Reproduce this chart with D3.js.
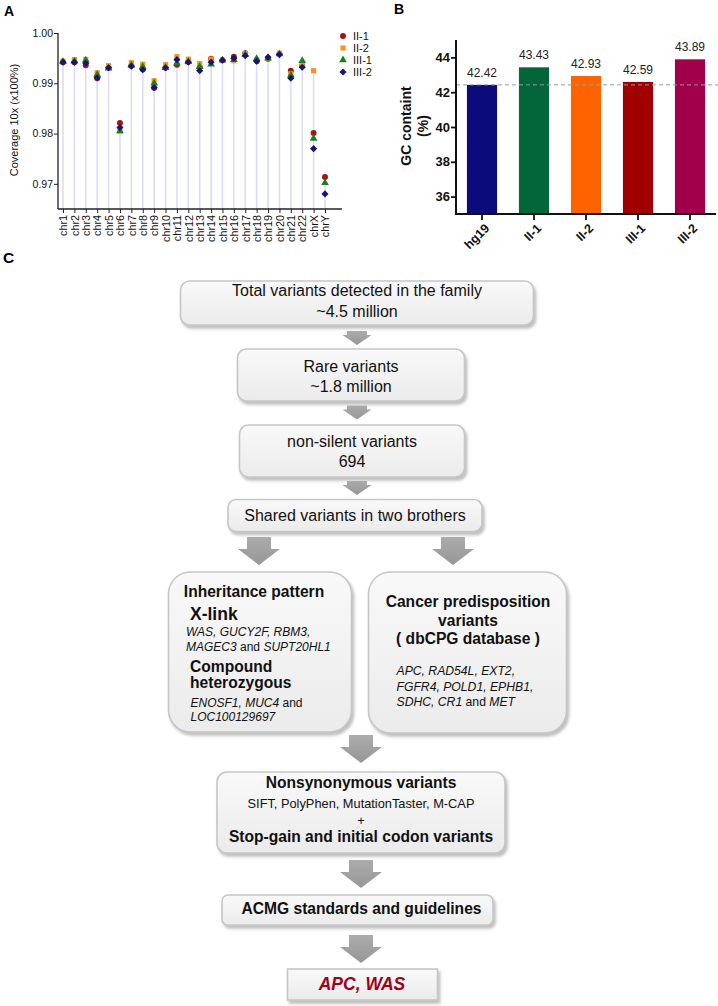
<!DOCTYPE html>
<html><head><meta charset="utf-8">
<script src="https://cdn.jsdelivr.net/npm/d3@7"></script>
<style>
body{margin:0;background:#fff}
svg{display:block}
text{font-family:"Liberation Sans",Arial,Helvetica,sans-serif}
</style>
</head><body>
<svg id="c" width="718" height="1006"></svg>
<script>
// ---------- DATA ----------
const chromosomes = ["chr1","chr2","chr3","chr4","chr5","chr6","chr7","chr8","chr9","chr10","chr11","chr12",
  "chr13","chr14","chr15","chr16","chr17","chr18","chr19","chr20","chr21","chr22","chrX","chrY"];
const seriesNames = ["II-1","II-2","III-1","III-2"];
const covII1  = [0.9942,0.9942,0.9936,0.9910,0.9931,0.9821,0.9935,0.9928,0.9891,0.9931,0.9937,0.9943,
                 0.9932,0.9949,0.9946,0.9953,0.9960,0.9944,0.9949,0.9959,0.9925,0.9935,0.9801,0.97135];
const covII2  = [0.9944,0.9947,0.9947,0.9921,0.9935,0.9805,0.9941,0.9938,0.9905,0.9937,0.9953,0.9948,
                 0.9939,0.9948,0.9946,0.9945,0.9959,0.9946,0.9949,0.9960,0.9919,0.9938,0.9925,null];
const covIII1 = [0.9943,0.9944,0.9946,0.9917,0.9930,0.9805,0.9936,0.9933,0.9900,0.9931,0.9940,0.9943,
                 0.9933,0.9938,0.9946,0.9947,0.9957,0.9949,0.9950,0.9958,0.9916,0.9945,0.9790,0.9702];
const covIII2 = [0.9942,0.9942,0.9940,0.9911,0.9931,0.9812,0.9934,0.9927,0.9891,0.9931,0.9947,0.9942,
                 0.9925,0.9942,0.9946,0.9950,0.9955,0.9944,0.9952,0.9957,0.9910,0.9932,0.9770,0.9680];
const coverageTicks = [0.97,0.98,0.99,1.00];

const gcSamples = ["hg19","II-1","II-2","III-1","III-2"];
const gcValues  = [42.42,43.43,42.93,42.59,43.89];
const gcTicks   = [36,38,40,42,44];
const gcReference = 42.42;

// Flowchart text
const stepTotal   = ["Total variants detected in the family","~4.5 million"];
const stepRare    = ["Rare variants","~1.8 million"];
const stepNonSil  = ["non-silent variants","694"];
const stepShared  = ["Shared variants in two brothers"];
const inheritTitle = "Inheritance pattern";
const xlinkTitle = "X-link";
const xlinkGenes = [[["WAS, GUCY2F, RBM3,",true]],[["MAGEC3",true],[" and ",false],["SUPT20HL1",true]]];
const compoundTitle = ["Compound","heterozygous"];
const compoundGenes = [[["ENOSF1, MUC4",true],[" and",false]],[["LOC100129697",true]]];
const cancerTitle = ["Cancer predisposition","variants","( dbCPG database )"];
const cancerGenes = [[["APC, RAD54L, EXT2,",true]],[["FGFR4, POLD1, EPHB1,",true]],[["SDHC, CR1",true],[" and ",false],["MET",true]]];
const nonsynTitle = "Nonsynonymous variants";
const nonsynTools = "SIFT, PolyPhen, MutationTaster, M-CAP";
const stopTitle = "Stop-gain and initial codon variants";
const acmgTitle = "ACMG standards and guidelines";
const finalGenes = "APC, WAS";

// ---------- SETUP ----------
const svg = d3.select("#c");
const defs = svg.append("defs");
const grad = defs.append("linearGradient").attr("id","boxGrad").attr("x1",0).attr("y1",0).attr("x2",0).attr("y2",1);
grad.append("stop").attr("offset","0%").attr("stop-color","#f9f9f9");
grad.append("stop").attr("offset","100%").attr("stop-color","#ebebeb");
const agrad = defs.append("linearGradient").attr("id","arrGrad").attr("x1",0).attr("y1",0).attr("x2",0).attr("y2",1);
agrad.append("stop").attr("offset","0%").attr("stop-color","#ababab");
agrad.append("stop").attr("offset","100%").attr("stop-color","#979797");
const flt = defs.append("filter").attr("id","shadow").attr("x","-10%").attr("y","-10%").attr("width","130%").attr("height","140%");
flt.append("feDropShadow").attr("dx",2).attr("dy",3).attr("stdDeviation",1.6).attr("flood-color","#888").attr("flood-opacity",0.55);

// panel letters
svg.append("text").attr("x",4).attr("y",16).attr("font-size",14).attr("font-weight","bold").text("A");
svg.append("text").attr("x",394).attr("y",14).attr("font-size",14).attr("font-weight","bold").text("B");
svg.append("text").attr("x",3).attr("y",263).attr("font-size",15.5).attr("font-weight","bold").text("C");

// ---------- PANEL A ----------
const gA = svg.append("g");
const xA = d3.scalePoint().domain(chromosomes).range([63,325]);
const yA = d3.scaleLinear().domain([0.965,1.0]).range([209,33]);
const seriesData = [covII1,covII2,covIII1,covIII2];
const seriesColors = ["#a01515","#f7941d","#1f7d1f","#14147a"];
const seriesSymbols = [d3.symbolCircle,d3.symbolSquare,d3.symbolTriangle,d3.symbolDiamond2];
const seriesSizes = [28,27,26,32];

// stems
gA.selectAll("line.stem").data(chromosomes).join("line")
  .attr("x1",d=>xA(d)).attr("x2",d=>xA(d))
  .attr("y1",yA(0.965))
  .attr("y2",(d,i)=>yA(d3.max(seriesData,s=>s[i])))
  .attr("stroke","#dcdcf4").attr("stroke-width",1.6);

// axes
const yAxisA = gA.append("g").attr("transform","translate(58,0)")
  .call(d3.axisLeft(yA).tickValues(coverageTicks).tickFormat(d3.format(".2f")).tickSize(4).tickSizeOuter(0));
yAxisA.select(".domain").remove();
yAxisA.selectAll("text").attr("font-size",10.5).attr("fill","#111").attr("x",-5);
yAxisA.selectAll(".tick line").attr("stroke","#222");
gA.append("line").attr("x1",58).attr("x2",58).attr("y1",yA(1.0)).attr("y2",yA(0.965)).attr("stroke","#222").attr("stroke-width",1.3);

const xAxisA = gA.append("g").attr("transform","translate(0,209)")
  .call(d3.axisBottom(xA).tickSize(4).tickSizeOuter(0));
xAxisA.select(".domain").remove();
xAxisA.selectAll(".tick line").attr("stroke","#222");
xAxisA.selectAll("text").attr("font-size",10.8).attr("fill","#111")
  .attr("transform","rotate(-90)").attr("text-anchor","end").attr("x",-6).attr("y",0).attr("dy","0.35em");
gA.append("line").attr("x1",58).attr("x2",342).attr("y1",209).attr("y2",209).attr("stroke","#222").attr("stroke-width",1.3);

gA.append("text").attr("transform","translate(18,120) rotate(-90)").attr("text-anchor","middle")
  .attr("font-size",11).attr("fill","#111").text("Coverage 10x (x100%)");

// points
seriesData.forEach((s,k)=>{
  gA.append("g").selectAll("path").data(chromosomes.map((c,i)=>({c,v:s[i]})).filter(d=>d.v!=null)).join("path")
    .attr("transform",d=>`translate(${xA(d.c)},${yA(d.v)})`)
    .attr("d",d3.symbol().type(seriesSymbols[k]).size(seriesSizes[k]))
    .attr("fill",seriesColors[k]);
});

// legend
seriesNames.forEach((n,k)=>{
  const ly = 36 + k*12;
  gA.append("path").attr("transform",`translate(343,${ly})`)
    .attr("d",d3.symbol().type(seriesSymbols[k]).size(seriesSizes[k])).attr("fill",seriesColors[k]);
  gA.append("text").attr("x",353).attr("y",ly+4).attr("font-size",11).attr("fill","#111").text(n);
});

// ---------- PANEL B ----------
const gB = svg.append("g");
const xB = d3.scaleBand().domain(gcSamples).range([456,716]).paddingInner(0.42).paddingOuter(0.21);
const yB = d3.scaleLinear().domain([35,45]).range([214,40]);
const gcColors = ["#0b0b7c","#03653a","#ff6300","#a10000","#a3004c"];

gB.selectAll("rect.bar").data(gcSamples).join("rect")
  .attr("x",d=>xB(d)).attr("width",xB.bandwidth())
  .attr("y",(d,i)=>yB(gcValues[i])).attr("height",(d,i)=>yB(35)-yB(gcValues[i]))
  .attr("fill",(d,i)=>gcColors[i]);

gB.append("line").attr("x1",456).attr("x2",718).attr("y1",yB(gcReference)).attr("y2",yB(gcReference))
  .attr("stroke","#9a9a9a").attr("stroke-width",1).attr("stroke-dasharray","4,3");

gB.selectAll("text.val").data(gcSamples).join("text")
  .attr("x",d=>xB(d)+xB.bandwidth()/2).attr("y",(d,i)=>yB(gcValues[i])-8)
  .attr("text-anchor","middle").attr("font-size",12).attr("fill","#222")
  .text((d,i)=>gcValues[i].toFixed(2));

const yAxisB = gB.append("g").attr("transform","translate(456,0)")
  .call(d3.axisLeft(yB).tickValues(gcTicks).tickSize(5).tickSizeOuter(0));
yAxisB.select(".domain").remove();
yAxisB.selectAll(".tick line").attr("stroke","#111").attr("stroke-width",1.8);
yAxisB.selectAll("text").attr("font-size",13).attr("font-weight","bold").attr("fill","#111").attr("x",-6);
gB.append("line").attr("x1",456).attr("x2",456).attr("y1",40).attr("y2",214).attr("stroke","#111").attr("stroke-width",2);

const xAxisB = gB.append("g").attr("transform","translate(0,214)")
  .call(d3.axisBottom(xB).tickSize(6).tickSizeOuter(0));
xAxisB.select(".domain").remove();
xAxisB.selectAll(".tick line").attr("stroke","#111").attr("stroke-width",1.8);
xAxisB.selectAll("text").attr("font-size",12.5).attr("font-weight","bold").attr("fill","#111")
  .attr("transform","translate(5,12) rotate(-45)").attr("text-anchor","end").attr("y",0).attr("dy","0.35em");
gB.append("line").attr("x1",455).attr("x2",716).attr("y1",214).attr("y2",214).attr("stroke","#111").attr("stroke-width",2);

gB.append("text").attr("transform","translate(411,126) rotate(-90)").attr("text-anchor","middle")
  .attr("font-size",14).attr("font-weight","bold").attr("fill","#111").text("GC containt");
gB.append("text").attr("transform","translate(428,126) rotate(-90)").attr("text-anchor","middle")
  .attr("font-size",14).attr("font-weight","bold").attr("fill","#111").text("(%)");

// ---------- PANEL C (flowchart) ----------
const gC = svg.append("g");
function box(x,y,w,h,r){
  gC.append("rect").attr("x",x).attr("y",y).attr("width",w).attr("height",h).attr("rx",r).attr("ry",r)
    .attr("fill","url(#boxGrad)").attr("stroke","#c6c6c6").attr("stroke-width",1.6).attr("filter","url(#shadow)");
}
function arrow(cx,top,stemW,headW,stemH,totalH){
  const p = d3.path();
  p.moveTo(cx-stemW/2,top); p.lineTo(cx+stemW/2,top); p.lineTo(cx+stemW/2,top+stemH);
  p.lineTo(cx+headW/2,top+stemH); p.lineTo(cx,top+totalH); p.lineTo(cx-headW/2,top+stemH);
  p.lineTo(cx-stemW/2,top+stemH); p.closePath();
  gC.append("path").attr("d",p.toString()).attr("fill","url(#arrGrad)");
}
function line(x,y,txt,size,opts={}){
  return gC.append("text").attr("x",x).attr("y",y).attr("font-size",size)
    .attr("text-anchor",opts.anchor||"middle").attr("font-weight",opts.bold?"bold":"normal")
    .attr("font-style",opts.italic?"italic":"normal").attr("fill",opts.fill||"#111").text(txt);
}
function rich(x,y,segs,size,anchor){
  const t = gC.append("text").attr("x",x).attr("y",y).attr("font-size",size).attr("text-anchor",anchor||"start").attr("fill","#111");
  segs.forEach(s=>t.append("tspan").attr("font-style",s[1]?"italic":"normal").text(s[0]));
}

box(180.5,281,353,44,9);
stepTotal.forEach((s,i)=>line(357,296+i*20.5,s,16));
arrow(357,331,20,29,4,14);
box(237.5,349,227,52,9);
stepRare.forEach((s,i)=>line(351,371.5+i*20,s,16));
arrow(357,405.5,20,29,4,14);
box(239.5,425,225,52,9);
stepNonSil.forEach((s,i)=>line(352,447+i*20,s,16));
arrow(357,481,20,29,4,14);
box(228,499.5,254,32,8);
stepShared.forEach(s=>line(355,521,s,16));

arrow(259,537,24,42,12,28);
arrow(453,537,24,42,12,28);

box(168.5,572,183,160,22);
line(254,597,inheritTitle,15.6,{bold:true});
line(190,620,xlinkTitle,17.5,{bold:true,anchor:"start"});
xlinkGenes.forEach((segs,i)=>rich(186,636+i*14.5,segs,12));
compoundTitle.forEach((s,i)=>line(190,672+i*16,s,15.6,{bold:true,anchor:"start"}));
compoundGenes.forEach((segs,i)=>rich(190.5,706.5+i*14,segs,12));

box(368.5,572,198,161,22);
cancerTitle.forEach((s,i)=>line(468,607+i*18.5,s,15.6,{bold:true}));
cancerGenes.forEach((segs,i)=>rich(396.5,675+i*15.5,segs,12.2));

arrow(361,735,24,42,12,28);
box(217,772,288,81,10);
line(361,788,nonsynTitle,15.6,{bold:true});
line(361,808,nonsynTools,12.8);
line(361,825,"+",13);
line(361,842,stopTitle,15.6,{bold:true});

arrow(361,860,24,42,12,28);
box(222,895,271,30,6);
line(361.5,913.5,acmgTitle,15.6,{bold:true});

arrow(361,935,24,42,12,28);
box(287.5,969,150,31,0);
line(362,990,finalGenes,17.5,{bold:true,italic:true,fill:"#a0001a"});
</script>
</body></html>
